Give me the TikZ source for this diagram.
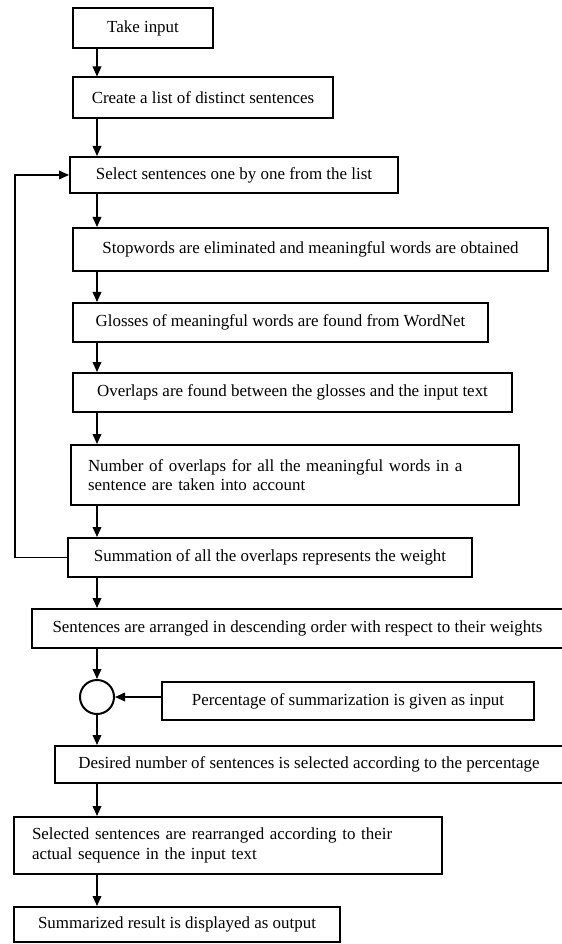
\documentclass[tikz,border=0pt]{standalone}
\usepackage{fontspec}
\setmainfont{Liberation Serif}
\usepackage{tikz}
\usetikzlibrary{arrows.meta}

\begin{document}
\begin{tikzpicture}[x=0.75pt, y=-0.75pt, >={Triangle[length=7.5pt,width=6.5pt]},
    main/.style = {draw, rectangle, line width=1.5pt, inner sep=0pt, font=\fontsize{12.7}{14.5}\selectfont},
    multi/.style = {main, align=left},
    sum/.style = {draw, circle, line width=1.5pt, minimum size=25.5pt, inner sep=0pt},
    flow/.style = {->, line width=1.1pt}]
          \useasboundingbox (0,0) rectangle (561,944);
          \coordinate (spine) at (97,0);
          \coordinate (back) at (15,0);

          \node[main, minimum width=105pt, minimum height=30pt] (n_1) at (143,28) {Take input};
          \node[main, minimum width=195pt, minimum height=30.75pt] (n_2) at (203,98) {Create a list of distinct sentences};
          \node[main, minimum width=246pt, minimum height=27pt] (n_3) at (234,175) {Select sentences one by one from the list};
          \node[main, minimum width=356.25pt, minimum height=32.25pt] (n_4) at (310.5,249.5) {Stopwords are eliminated and meaningful words are obtained};
          \node[main, minimum width=311.25pt, minimum height=29.25pt] (n_5) at (280.5,322.5) {Glosses of meaningful words are found from WordNet};
          \node[main, minimum width=329.25pt, minimum height=29.25pt] (n_6) at (292.5,392.5) {Overlaps are found between the glosses and the input text};
          \node[multi, text width=310.5pt, inner xsep=12.75pt, minimum height=45pt] (n_7) at (295,475) {Number of overlaps for all the meaningful words in a\\ sentence are taken into account};
          \node[main, minimum width=303pt, minimum height=29.25pt] (n_8) at (270,557.5) {Summation of all the overlaps represents the weight};
          \node[main, minimum width=398.25pt, minimum height=29.25pt] (n_9) at (297.5,628.5) {Sentences are arranged in descending order with respect to their weights};
          \node[sum] (n_c) at (97,697) {};
          \node[main, minimum width=279pt, minimum height=28.5pt] (n_10) at (348,701) {Percentage of summarization is given as input};
          \node[main, minimum width=381pt, minimum height=27.75pt] (n_11) at (309,764.5) {Desired number of sentences is selected according to the percentage};
          \node[multi, text width=294pt, inner xsep=13.5pt, minimum height=42.75pt] (n_12) at (228,845.5) {Selected sentences are rearranged according to their\\ actual sequence in the input text};
          \node[main, minimum width=244.5pt, minimum height=26.25pt] (n_13) at (177,924.5) {Summarized result is displayed as output};

          \draw[flow] (n_1.south -| spine) -- (n_2.north -| spine);
          \draw[flow] (n_2.south -| spine) -- (n_3.north -| spine);
          \draw[flow] (n_3.south -| spine) -- (n_4.north -| spine);
          \draw[flow] (n_4.south -| spine) -- (n_5.north -| spine);
          \draw[flow] (n_5.south -| spine) -- (n_6.north -| spine);
          \draw[flow] (n_6.south -| spine) -- (n_7.north -| spine);
          \draw[flow] (n_7.south -| spine) -- (n_8.north -| spine);
          \draw[flow] (n_8.south -| spine) -- (n_9.north -| spine);
          \draw[flow] (n_9.south -| spine) -- (n_c.north);
          \draw[flow] (n_10.west |- n_c) -- (n_c.east);
          \draw[flow] (n_c.south) -- (n_11.north -| spine);
          \draw[flow] (n_11.south -| spine) -- (n_12.north -| spine);
          \draw[flow] (n_12.south -| spine) -- (n_13.north -| spine);
          % back to the selection step
          \draw[flow] (n_8.west) -- (n_8.west -| back) |- (n_3.west);
        \end{tikzpicture}
\end{document}
